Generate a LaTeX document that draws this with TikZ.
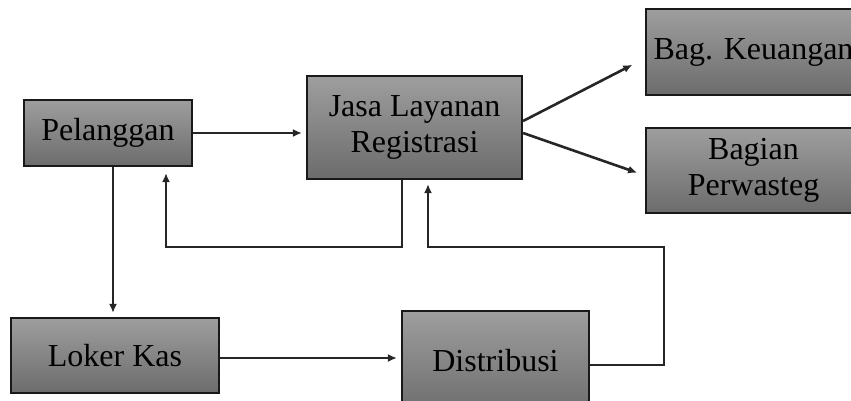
\documentclass[tikz,border=0pt]{standalone}
\usepackage{fontspec}
\setmainfont{Liberation Serif}
\usetikzlibrary{arrows.meta,calc}
\definecolor{boxtop}{RGB}{158,158,158}
\definecolor{boxbot}{RGB}{108,108,108}
\tikzset{
  blok/.style={draw=black!90, line width=1.1pt, top color=boxtop, bottom color=boxbot,
    inner sep=0pt, align=center, font=\fontsize{16}{18}\selectfont},
  panah/.style={line width=1.3pt, draw=black!85, -{Latex[length=4.5pt,width=4pt]}, shorten >=2pt},
  garis/.style={line width=1.3pt, draw=black!85}
}
\begin{document}
\begin{tikzpicture}[x=0.5pt,y=-0.5pt]
\useasboundingbox (0,0) rectangle (851,401);
\node[blok, minimum width=84pt, minimum height=33pt] (pel) at (108,133) {Pelanggan};
\node[blok, minimum width=107.5pt, minimum height=51.5pt] (jasa) at (414.5,127.5) {Jasa Layanan\\Registrasi};
\node[blok, minimum width=107.5pt, minimum height=43pt] (bagk) at (753.5,52) {Bag. Keuangan};
\node[blok, minimum width=107.5pt, minimum height=42.5pt] (bagp) at (753.5,170.5) {Bagian\\Perwasteg};
\node[blok, minimum width=104pt, minimum height=37.5pt] (loker) at (115,355.5) {Loker Kas};
\node[blok, minimum width=93.5pt, minimum height=52pt, text depth=0pt] (distr) at (495.5,363) {\raisebox{2.5pt}{Distribusi}};
% connectors
\draw[panah] (pel.east) -- (pel.east -| jasa.west);
\draw[panah] ([xshift=2.5pt]pel.south) -- ([xshift=2.5pt]pel.south |- loker.north);
\draw[panah] ([yshift=-1.25pt]loker.east) -- ([yshift=-1.25pt]loker.east -| distr.west);
\draw[panah] ([yshift=3.25pt]jasa.east) -- ([xshift=-4.5pt,yshift=-5.5pt]bagk.west);
\draw[panah] ([yshift=-2.75pt]jasa.east) -- ([xshift=-2pt,yshift=-1.75pt]bagp.west);
\draw[panah] ([xshift=-6.25pt]jasa.south) -- ++(0,67) -| ([xshift=29pt,yshift=-1pt]pel.south);
\draw[panah] ([yshift=-1pt]distr.east) -- ++(74,0) -- ++(0,-118) -| ([xshift=6.75pt]jasa.south);
\end{tikzpicture}
\end{document}
